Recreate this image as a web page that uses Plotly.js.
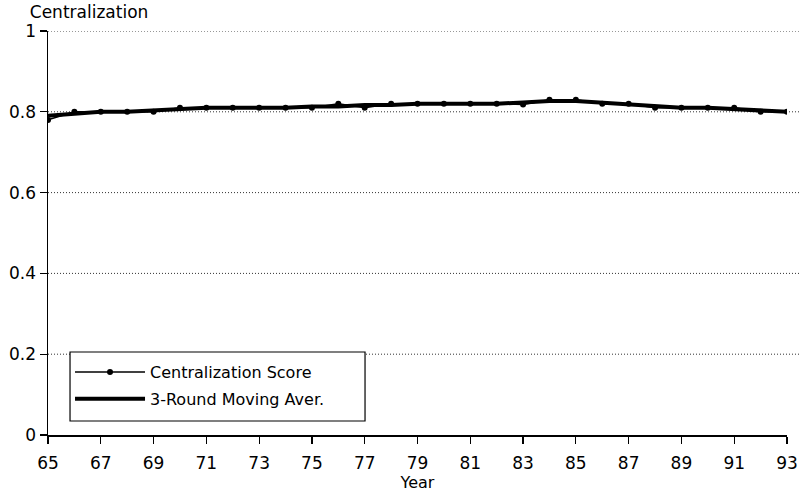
<!DOCTYPE html>
<html>
<head>
<meta charset="utf-8">
<script src="https://cdn.plot.ly/plotly-3.0.1.min.js"></script>
<style>html,body{margin:0;padding:0;background:#fff;}#chart{width:805px;height:493px;}</style>
</head>
<body>
<div id="chart"></div>
<script>
const years = [65,66,67,68,69,70,71,72,73,74,75,76,77,78,79,80,81,82,83,84,85,86,87,88,89,90,91,92,93];
const centralizationScore = [0.78,0.80,0.80,0.80,0.80,0.81,0.81,0.81,0.81,0.81,0.81,0.82,0.81,0.82,0.82,0.82,0.82,0.82,0.818,0.83,0.83,0.82,0.82,0.81,0.81,0.81,0.81,0.80,0.80];
const movingAverage = [0.79,0.795,0.80,0.80,0.803,0.807,0.81,0.81,0.81,0.81,0.813,0.813,0.817,0.817,0.82,0.82,0.82,0.82,0.823,0.827,0.827,0.823,0.817,0.813,0.81,0.81,0.807,0.803,0.80];
const xTickVals = [65,67,69,71,73,75,77,79,81,83,85,87,89,91,93];
const yTickVals = [0,0.2,0.4,0.6,0.8,1];
const gridVals = [0.2,0.4,0.6,0.8,1];

const fam = 'DejaVu Sans, Arial, sans-serif';
const font = {family: fam, size: 17, color: '#000'};

const traces = [
  {x: years, y: centralizationScore, name: 'Centralization Score', type: 'scatter', mode: 'lines+markers',
   line: {color: '#000', width: 1.5}, marker: {color: '#000', size: 6}, legendgroup: 'a'},
  {x: years, y: movingAverage, name: '3-Round Moving Aver.', type: 'scatter', mode: 'lines',
   line: {color: '#000', width: 4}, legendgroup: 'b'}
];

const shapes = gridVals.map(v => ({type: 'line', xref: 'paper', yref: 'y', x0: 0, x1: 1.0176, y0: v, y1: v,
  line: {color: '#333', width: 1, dash: '1px,2px'}, layer: 'below'}));
// legend frame
shapes.push({type: 'rect', xref: 'paper', yref: 'paper', x0: 0.0298, x1: 0.429, y0: 0.0347, y1: 0.2054,
  fillcolor: '#fff', line: {color: '#000', width: 1.2}, layer: 'above'});

const layout = {
  width: 805, height: 493,
  margin: {l: 48, r: 18, t: 31, b: 58},
  paper_bgcolor: '#fff', plot_bgcolor: '#fff',
  font: font,
  showlegend: true,
  title: {text: 'Centralization', font: {family: fam, size: 17, color: '#000'},
          xref: 'container', x: 0.037, xanchor: 'left', yref: 'container', y: 0.975, yanchor: 'middle'},
  xaxis: {range: [65, 93], tickvals: xTickVals, ticks: 'outside', ticklen: 7, tickwidth: 1.2, tickcolor: '#000',
          showline: true, linecolor: '#000', linewidth: 1.5, showgrid: false, zeroline: false,
          ticklabelstandoff: 5,
          tickfont: font, title: {text: 'Year', font: {family: fam, size: 16, color: '#000'}, standoff: 4}},
  yaxis: {range: [0, 1], tickvals: yTickVals, ticks: 'outside', ticklen: 7, tickwidth: 1.2, tickcolor: '#000',
          showline: true, linecolor: '#000', linewidth: 1.5, showgrid: false, zeroline: false,
          tickfont: font},
  shapes: shapes,
  legend: {x: 0.0298, y: 0.198, xanchor: 'left', yanchor: 'top', bgcolor: 'rgba(0,0,0,0)', borderwidth: 0,
           font: {family: fam, size: 16, color: '#000'}, itemwidth: 70, traceorder: 'grouped', tracegroupgap: 3}
};

Plotly.newPlot('chart', traces, layout, {staticPlot: true});
</script>
</body>
</html>
